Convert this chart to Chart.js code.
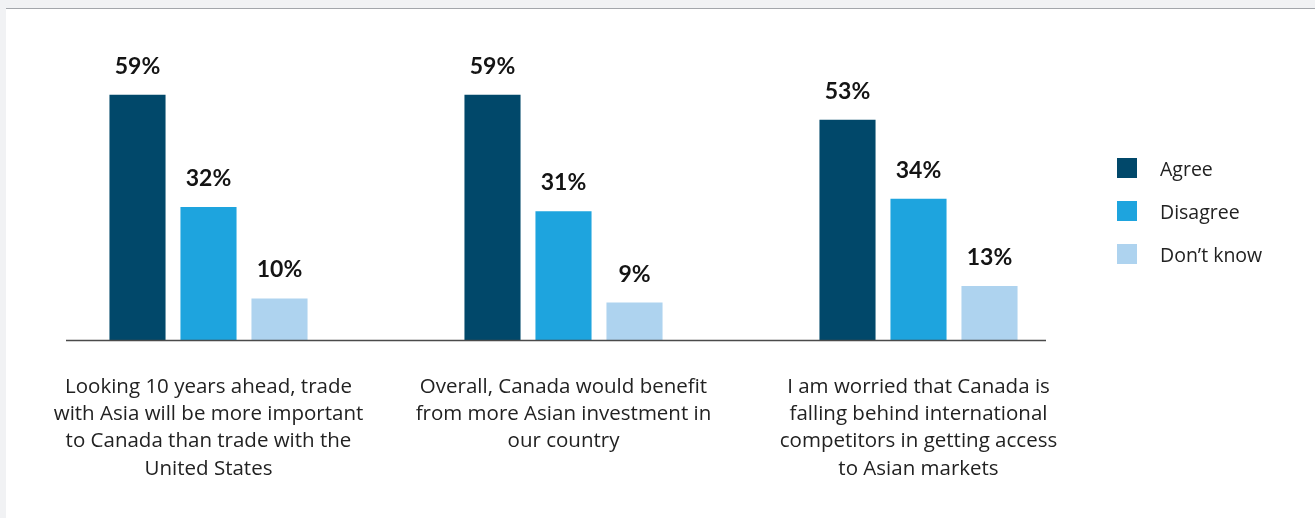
<!DOCTYPE html>
<html>
<head>
<meta charset="utf-8">
<script src="https://cdn.jsdelivr.net/npm/chart.js@4.4.1/dist/chart.umd.min.js"></script>
<style>
  html, body { margin: 0; padding: 0; }
  body { width: 1315px; height: 518px; background: #f1f2f4; position: relative; overflow: hidden; font-family: "Open Sans", "Noto Sans", sans-serif; }
  .panel { position: absolute; left: 6px; top: 8px; right: 0; bottom: 0; background: #ffffff; border-top: 1px solid #a3a6ab; }
  .wrap { position: absolute; left: 0; top: 0; width: 1315px; height: 518px; }
  .legend { position: absolute; left: 1117px; top: 158px; }
  .legend .item { position: relative; height: 20px; margin-bottom: 23px; }
  .legend .sw { position: absolute; left: 0; top: 0; width: 20px; height: 20px; }
  .legend .tx { position: absolute; left: 43px; top: -3px; font-size: 19.5px; color: #222; white-space: nowrap; }
</style>
</head>
<body>
<div class="panel"></div>
<div class="wrap"><canvas id="c" width="1315" height="518"></canvas></div>
<div class="legend" id="legend"></div>
<script>
// Survey statements (category labels, split into lines)
const categories = [
  ["Looking 10 years ahead, trade", "with Asia will be more important", "to Canada than trade with the", "United States"],
  ["Overall, Canada would benefit", "from more Asian investment in", "our country"],
  ["I am worried that Canada is", "falling behind international", "competitors in getting access", "to Asian markets"]
];
// Share of respondents (%)
const agree = [59, 59, 53];
const disagree = [32, 31, 34];
const dontKnow = [10, 9, 13];
const seriesNames = ["Agree", "Disagree", "Don\u2019t know"];
const seriesColors = ["#01486a", "#1ea4de", "#aed3ef"];

// Value labels above each bar
const valueLabels = {
  id: 'valueLabels',
  afterDatasetsDraw(chart) {
    const ctx = chart.ctx;
    ctx.save();
    ctx.font = 'bold 23px Lato, "Noto Sans", sans-serif';
    ctx.fillStyle = '#141414';
    ctx.textAlign = 'center';
    ctx.textBaseline = 'alphabetic';
    chart.data.datasets.forEach((ds, i) => {
      chart.getDatasetMeta(i).data.forEach((bar, j) => {
        ctx.fillText(ds.data[j] + '%', bar.x, bar.y - 21);
      });
    });
    ctx.restore();
  }
};

// Horizontal baseline under the bars
const baseline = {
  id: 'baseline',
  afterDatasetsDraw(chart) {
    const ctx = chart.ctx;
    const y = chart.scales.y.getPixelForValue(0);
    ctx.save();
    ctx.strokeStyle = '#4a4a4a';
    ctx.lineWidth = 1.5;
    ctx.beginPath();
    ctx.moveTo(66, y + 0.5);
    ctx.lineTo(1046, y + 0.5);
    ctx.stroke();
    ctx.restore();
  }
};

const chart = new Chart(document.getElementById('c'), {
  type: 'bar',
  data: {
    labels: categories,
    datasets: [
      { label: seriesNames[0], data: agree, backgroundColor: seriesColors[0] },
      { label: seriesNames[1], data: disagree, backgroundColor: seriesColors[1] },
      { label: seriesNames[2], data: dontKnow, backgroundColor: seriesColors[2] }
    ]
  },
  options: {
    responsive: false,
    animation: false,
    events: [],
    layout: { padding: { left: 31, right: 219, top: 49, bottom: 0 } },
    datasets: { bar: { categoryPercentage: 0.6, barPercentage: 0.79 } },
    plugins: { legend: { display: false }, tooltip: { enabled: false } },
    scales: {
      y: { display: false, min: 0, max: 70 },
      x: {
        grid: { display: false, drawTicks: false },
        border: { display: false },
        ticks: {
          color: '#222222',
          padding: 34,
          maxRotation: 0,
          autoSkip: false,
          font: { family: '"Open Sans", "Noto Sans", sans-serif', size: 20.5, lineHeight: 1.32 }
        },
        afterFit(scale) { scale.height = 178; }
      }
    }
  },
  plugins: [valueLabels, baseline]
});

// Legend
const lg = document.getElementById('legend');
seriesNames.forEach((n, i) => {
  const it = document.createElement('div');
  it.className = 'item';
  it.innerHTML = '<span class="sw" style="background:' + seriesColors[i] + '"></span><span class="tx">' + n + '</span>';
  lg.appendChild(it);
});
</script>
</body>
</html>
